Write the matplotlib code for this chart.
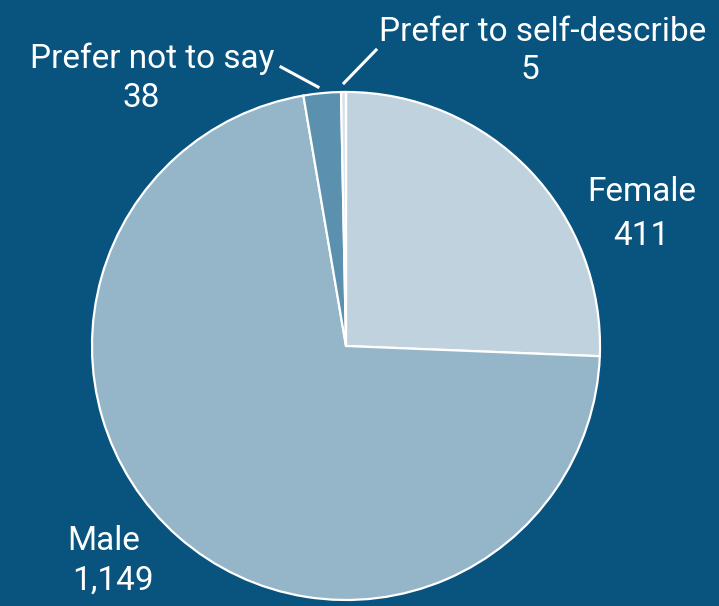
import matplotlib
matplotlib.use("Agg")
import matplotlib.pyplot as plt
from matplotlib import font_manager

categories = ["Female", "Male", "Prefer not to say", "Prefer to self-describe"]
counts = [411, 1149, 38, 5]
count_labels = ["411", "1,149", "38", "5"]
colors = ["#c0d2de", "#95b6c9", "#5b90ae", "#d6e2ea"]
bg = "#08547f"

names = {f.name for f in font_manager.fontManager.ttflist}
family = ["Liberation Sans Narrow"] if "Liberation Sans Narrow" in names else ["Roboto"]
plt.rcParams["font.family"] = family + ["DejaVu Sans"]

W, H = 719, 606
fig = plt.figure(figsize=(W / 100, H / 100), dpi=100, facecolor=bg)

cx, cy, r = 346, 346, 254
ax = fig.add_axes([(cx - r) / W, (H - cy - r) / H, 2 * r / W, 2 * r / H])
ax.set_facecolor(bg)
ax.pie(counts, colors=colors, startangle=90, counterclock=False, radius=1,
       wedgeprops=dict(edgecolor="white", linewidth=1.6))
ax.set_xlim(-1, 1)
ax.set_ylim(-1, 1)
ax.set_aspect("auto")
ax.axis("off")

def px(x, y):
    return x / W, 1 - y / H

label_pos = {
    "Female": ((642, 192), (641, 236)),
    "Male": ((104, 541), (113, 581)),
    "Prefer not to say": ((152, 59), (141, 98)),
    "Prefer to self-describe": ((543, 32), (530, 70)),
}
for cat, lab in zip(categories, count_labels):
    (x1, y1), (x2, y2) = label_pos[cat]
    fig.text(*px(x1, y1), cat, color="white", fontsize=24,
             ha="center", va="center")
    fig.text(*px(x2, y2), lab, color="white", fontsize=24,
             ha="center", va="center")

# leader lines for the two small slices
for (xa, ya), (xb, yb) in [((281, 67), (318, 87)), ((376, 50), (344, 83))]:
    fig.add_artist(plt.Line2D([xa / W, xb / W], [1 - ya / H, 1 - yb / H],
                              color="white", linewidth=2.2, transform=fig.transFigure))

fig.savefig("out.png", dpi=100, facecolor=bg)
